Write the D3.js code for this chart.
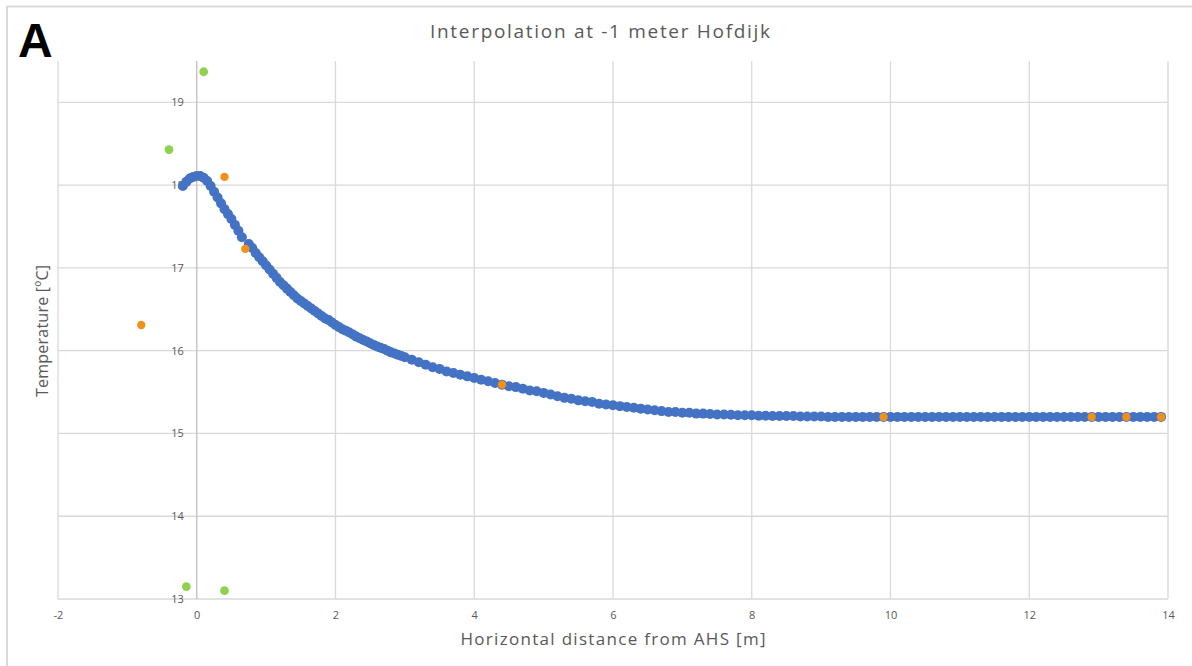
<html>
  <head>
    <script src="https://cdn.jsdelivr.net/npm/d3@7" charset="UTF-8"></script>
    <style>
      body { margin: 0; background: #fff; }
      text { font-family: "Open Sans", "Liberation Sans", sans-serif; }
    </style>
  </head>
  <body>
    <svg width="1192" height="666"></svg>

    <script type="text/javascript">
      // Interpolated curve (blue)
      var blueX = [-0.2, -0.15, -0.1, -0.05, 0, 0.05, 0.1, 0.15, 0.2, 0.25,
        0.3, 0.35, 0.4, 0.45, 0.5, 0.55, 0.6, 0.65,
        0.75, 0.8, 0.85, 0.9, 0.95, 1.0,
        1.05, 1.1, 1.15, 1.2, 1.25, 1.3, 1.35, 1.4, 1.45, 1.5,
        1.55, 1.6, 1.65, 1.7, 1.75, 1.8, 1.85, 1.9, 1.95, 2.0,
        2.05, 2.1, 2.15, 2.2, 2.25, 2.3, 2.35, 2.4, 2.45, 2.5,
        2.55, 2.6, 2.65, 2.7, 2.75, 2.8, 2.85, 2.9, 2.95, 3.0,
        3.1, 3.2, 3.3, 3.4, 3.5, 3.6, 3.7, 3.8, 3.9, 4.0,
        4.1, 4.2, 4.3, 4.4, 4.5, 4.6, 4.7, 4.8, 4.9, 5.0,
        5.1, 5.2, 5.3, 5.4, 5.5, 5.6, 5.7, 5.8, 5.9, 6.0,
        6.1, 6.2, 6.3, 6.4, 6.5, 6.6, 6.7, 6.8, 6.9, 7.0,
        7.1, 7.2, 7.3, 7.4, 7.5, 7.6, 7.7, 7.8, 7.9, 8.0,
        8.1, 8.2, 8.3, 8.4, 8.5, 8.6, 8.7, 8.8, 8.9, 9.0,
        9.1, 9.2, 9.3, 9.4, 9.5, 9.6, 9.7, 9.8, 9.9, 10.0,
        10.1, 10.2, 10.3, 10.4, 10.5, 10.6, 10.7, 10.8, 10.9, 11.0,
        11.1, 11.2, 11.3, 11.4, 11.5, 11.6, 11.7, 11.8, 11.9, 12.0,
        12.1, 12.2, 12.3, 12.4, 12.5, 12.6, 12.7, 12.8, 12.9, 13.0,
        13.1, 13.2, 13.3, 13.4, 13.5, 13.6, 13.7, 13.8, 13.9];
      var blueT = [17.99, 18.04, 18.08, 18.10, 18.11, 18.11, 18.09, 18.05, 17.99, 17.92,
        17.85, 17.78, 17.71, 17.65, 17.59, 17.52, 17.45, 17.37,
        17.29, 17.24, 17.18, 17.13, 17.08, 17.03,
        16.98, 16.93, 16.88, 16.83, 16.79, 16.75, 16.71, 16.67, 16.63, 16.60,
        16.57, 16.54, 16.51, 16.48, 16.45, 16.42, 16.39, 16.37, 16.34, 16.31,
        16.285, 16.26, 16.24, 16.22, 16.195, 16.17, 16.15, 16.13, 16.11, 16.09,
        16.07, 16.05, 16.035, 16.02, 16.00, 15.98, 15.965, 15.95, 15.935, 15.92,
        15.89, 15.86, 15.83, 15.80, 15.78, 15.75, 15.73, 15.71, 15.69, 15.67,
        15.65, 15.63, 15.61, 15.59, 15.57, 15.56, 15.54, 15.52, 15.51, 15.49,
        15.47, 15.45, 15.43, 15.42, 15.40, 15.39, 15.38, 15.36, 15.35, 15.34,
        15.33, 15.32, 15.31, 15.30, 15.29, 15.28, 15.27, 15.26, 15.26, 15.25,
        15.25, 15.24, 15.24, 15.235, 15.23, 15.23, 15.225, 15.22, 15.22, 15.22,
        15.215, 15.215, 15.21, 15.21, 15.21, 15.21, 15.205, 15.205, 15.205, 15.205,
        15.2, 15.2, 15.2, 15.2, 15.2, 15.2, 15.2, 15.2, 15.2, 15.2,
        15.2, 15.2, 15.2, 15.2, 15.2, 15.2, 15.2, 15.2, 15.2, 15.2,
        15.2, 15.2, 15.2, 15.2, 15.2, 15.2, 15.2, 15.2, 15.2, 15.2,
        15.2, 15.2, 15.2, 15.2, 15.2, 15.2, 15.2, 15.2, 15.2, 15.2,
        15.2, 15.2, 15.2, 15.2, 15.2, 15.2, 15.2, 15.2, 15.2];

      // Measured points (orange) and outliers (green)
      var orangeX = [-0.8, 0.4, 0.7, 4.4, 9.9, 12.9, 13.4, 13.9];
      var orangeT = [16.31, 18.1, 17.23, 15.59, 15.2, 15.2, 15.2, 15.2];
      var greenX = [0.1, -0.4, -0.15, 0.4];
      var greenT = [19.37, 18.43, 13.15, 13.1];

      var xTicks = [-2, 0, 2, 4, 6, 8, 10, 12, 14];
      var yTicks = [13, 14, 15, 16, 17, 18, 19];

      var svg = d3.select('svg');
      // plot box (note: "top" is reserved on window, so use other names)
      var plotL = 58, plotR = 1168, plotT = 61, plotB = 599;

      var x = d3.scaleLinear().domain([-2, 14]).range([plotL, plotR]);
      var y = d3.scaleLinear().domain([13, 19.5]).range([plotB, plotT]);

      // Outer frame (only top and left edges show)
      svg.append('line').attr('x1', 7).attr('x2', 1192).attr('y1', 6.5).attr('y2', 6.5)
        .attr('stroke', '#d9d9d9').attr('stroke-width', 2);
      svg.append('line').attr('x1', 7).attr('x2', 7).attr('y1', 6).attr('y2', 666)
        .attr('stroke', '#d9d9d9').attr('stroke-width', 2);

      // Gridlines
      svg.append('g').selectAll('line').data(yTicks).enter().append('line')
        .attr('x1', plotL).attr('x2', plotR)
        .attr('y1', function(d) { return y(d); }).attr('y2', function(d) { return y(d); })
        .attr('stroke', '#d9d9d9').attr('stroke-width', 1.3);
      svg.append('g').selectAll('line').data(xTicks).enter().append('line')
        .attr('y1', plotT).attr('y2', plotB)
        .attr('x1', function(d) { return x(d); }).attr('x2', function(d) { return x(d); })
        .attr('stroke', function(d) { return d === 0 ? '#bfbfbf' : '#d9d9d9'; })
        .attr('stroke-width', 1.3);

      // Axes: labels only, Excel style (y labels sit next to x = 0)
      var fmt = function(d) { return String(d); };
      var xAxis = d3.axisBottom(x).tickValues(xTicks).tickFormat(fmt).tickSize(0).tickPadding(12);
      var gx = svg.append('g').attr('transform', 'translate(0,' + plotB + ')').call(xAxis);
      var yAxis = d3.axisLeft(y).tickValues(yTicks).tickFormat(fmt).tickSize(0).tickPadding(13);
      var gy = svg.append('g').attr('transform', 'translate(' + x(0) + ',0)').call(yAxis);
      [gx, gy].forEach(function(g) {
        g.select('.domain').remove();
        g.selectAll('text').attr('fill', '#595959').style('font-size', '11px')
          .style('font-family', '"Open Sans", sans-serif');
      });

      // Blue curve
      svg.append('g').selectAll('circle').data(blueX).enter().append('circle')
        .attr('cx', function(d) { return x(d); })
        .attr('cy', function(d, i) { return y(blueT[i]); })
        .attr('r', 5)
        .attr('fill', '#4472c4');

      // Orange points
      svg.append('g').selectAll('circle').data(orangeX).enter().append('circle')
        .attr('cx', function(d) { return x(d); })
        .attr('cy', function(d, i) { return y(orangeT[i]); })
        .attr('r', 4.2)
        .attr('fill', '#f39019');

      // Green points
      svg.append('g').selectAll('circle').data(greenX).enter().append('circle')
        .attr('cx', function(d) { return x(d); })
        .attr('cy', function(d, i) { return y(greenT[i]); })
        .attr('r', 4.4)
        .attr('fill', '#8fd14f');

      // Titles
      svg.append('text').attr('x', 600).attr('y', 38).attr('text-anchor', 'middle')
        .attr('fill', '#595959').style('font-size', '19px')
        .attr('textLength', 340)
        .text('Interpolation at -1 meter Hofdijk');
      svg.append('text').attr('x', 613).attr('y', 645).attr('text-anchor', 'middle')
        .attr('fill', '#595959').style('font-size', '17px')
        .attr('textLength', 305)
        .text('Horizontal distance from AHS [m]');
      svg.append('text').attr('transform', 'translate(48,331) rotate(-90)')
        .attr('text-anchor', 'middle')
        .attr('fill', '#595959').style('font-size', '16px')
        .attr('textLength', 132)
        .text('Temperature [ºC]');

      // Panel letter
      svg.append('text').attr('x', 18).attr('y', 57)
        .style('font-family', '"Liberation Sans", Arial, sans-serif')
        .style('font-size', '48px').style('font-weight', 'bold')
        .attr('fill', '#000').text('A');
    </script>
  </body>
</html>
